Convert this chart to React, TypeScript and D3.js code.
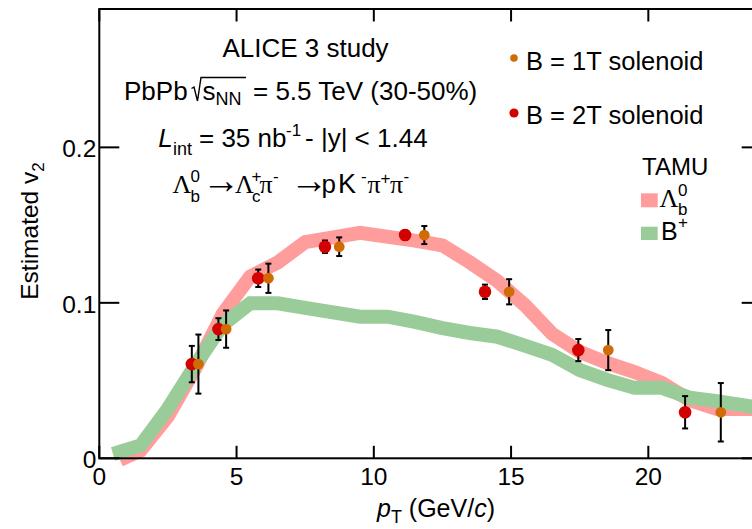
import React from "react";
import * as d3 from "d3";

const W = 752;
const H = 529;

// ALICE 3 projection, B = 2T solenoid
const ptB2T = [3.37, 4.34, 5.79, 8.22, 11.14, 14.05, 17.45, 21.34];
const v2B2T = [0.0606, 0.0831, 0.1158, 0.1361, 0.1436, 0.1071, 0.0696, 0.0296];
const errB2T = [0.0117, 0.007, 0.0056, 0.004, 0.003, 0.0046, 0.0071, 0.0104];

// ALICE 3 projection, B = 1T solenoid
const ptB1T = [3.61, 4.62, 6.16, 8.74, 11.84, 14.93, 18.54, 22.64];
const v2B1T = [0.0606, 0.0831, 0.1158, 0.1361, 0.1436, 0.1071, 0.0696, 0.0296];
const errB1T = [0.019, 0.012, 0.0094, 0.006, 0.0058, 0.0081, 0.0129, 0.0188];

// TAMU model, Lambda_b^0
const ptTamuLb = [0.75, 1.5, 2.5, 3.5, 4.5, 5.5, 6.5, 7.5, 9.5, 11.5, 12.5, 13.5, 14.5, 15.5, 16.5, 17.5, 18.5, 19.5, 20.5, 21.5, 22.5, 24.1];
const v2TamuLb = [-0.001, 0.005, 0.027, 0.058, 0.093, 0.117, 0.126, 0.139, 0.145, 0.14, 0.137, 0.126, 0.114, 0.0985, 0.08, 0.0686, 0.0613, 0.0555, 0.0484, 0.0375, 0.0317, 0.0317];

// TAMU model, B+
const ptTamuBp = [0.5, 1.5, 2.5, 3.5, 4.5, 5.5, 6.5, 7.5, 9.5, 10.5, 11.5, 12.5, 13.5, 14.5, 15.5, 16.5, 17.5, 18.5, 19.5, 20.5, 21.5, 22.5, 24.1];
const v2TamuBp = [0.0028, 0.0082, 0.032, 0.06, 0.086, 0.0997, 0.0997, 0.0967, 0.0911, 0.0911, 0.0878, 0.0838, 0.0806, 0.0782, 0.0725, 0.0665, 0.0568, 0.0504, 0.0453, 0.0453, 0.039, 0.0368, 0.0323];

const xTicks = [0, 5, 10, 15, 20];
const yTicks = [0, 0.1, 0.2];
const yTickLabels = ["0", "0.1", "0.2"];

const SANS = "'Liberation Sans', Arial, Helvetica, sans-serif";
const SERIF = "'Liberation Serif', 'Times New Roman', serif";

const RED = "#d20000";
const ORANGE = "#d16b05";
const PINK = "#ff9d9d";
const GREEN = "#9acc9a";

export default function App() {
  const x = d3.scaleLinear().domain([0, 24.13]).range([99.3, 761.7]);
  const y = d3.scaleLinear().domain([0, 0.289]).range([458.3, 9]);
  const [x0, x1] = x.range();
  const [y0, y1] = y.range();

  const line = d3
    .line<[number, number]>()
    .x((d) => x(d[0]))
    .y((d) => y(d[1]));

  const lbPath = line(ptTamuLb.map((p, i) => [p, v2TamuLb[i]]) as [number, number][]) || "";
  const bpPath = line(ptTamuBp.map((p, i) => [p, v2TamuBp[i]]) as [number, number][]) || "";

  const errBars = (pts: number[], vals: number[], errs: number[], key: string) =>
    pts.map((p, i) => {
      const cx = x(p);
      const top = y(vals[i] + errs[i]);
      const bot = y(vals[i] - errs[i]);
      return (
        <g key={key + i} stroke="#000" strokeWidth={2}>
          <line x1={cx} x2={cx} y1={top} y2={bot} />
          <line x1={cx - 3} x2={cx + 3} y1={top} y2={top} />
          <line x1={cx - 3} x2={cx + 3} y1={bot} y2={bot} />
        </g>
      );
    });

  return (
    <svg
      width={W}
      height={H}
      style={{ position: "absolute", left: 0, top: 0, background: "#fff" }}
      fontFamily={SANS}
    >
      <rect x={0} y={0} width={W} height={H} fill="#fff" />

      {/* model bands */}
      <path d={lbPath} fill="none" stroke={PINK} strokeWidth={14} strokeLinejoin="miter" />
      <path d={bpPath} fill="none" stroke={GREEN} strokeWidth={14} strokeLinejoin="miter" />

      {/* projections */}
      {errBars(ptB2T, v2B2T, errB2T, "e2")}
      {errBars(ptB1T, v2B1T, errB1T, "e1")}
      {ptB2T.map((p, i) => (
        <circle key={"r" + i} cx={x(p)} cy={y(v2B2T[i])} r={6.3} fill={RED} />
      ))}
      {ptB1T.map((p, i) => (
        <circle key={"o" + i} cx={x(p)} cy={y(v2B1T[i])} r={5.4} fill={ORANGE} />
      ))}

      {/* frame and ticks */}
      <g stroke="#000" strokeWidth={2} fill="none">
        <rect x={x0} y={y1} width={x1 - x0} height={y0 - y1} />
        {xTicks.map((t) => (
          <g key={"xt" + t}>
            <line x1={x(t)} x2={x(t)} y1={y0} y2={y0 - 12.5} />
            <line x1={x(t)} x2={x(t)} y1={y1} y2={y1 + 12.5} />
          </g>
        ))}
        {yTicks.map((t) => (
          <g key={"yt" + t}>
            <line x1={x0} x2={x0 + 20} y1={y(t)} y2={y(t)} />
            <line x1={x1} x2={x1 - 20} y1={y(t)} y2={y(t)} />
          </g>
        ))}
      </g>

      {/* tick labels */}
      <g fontSize={24.5} fill="#000">
        {xTicks.map((t) => (
          <text key={"xl" + t} x={x(t)} y={485} textAnchor="middle">
            {t}
          </text>
        ))}
        {yTicks.map((t, i) => (
          <text key={"yl" + t} x={x0 - 3} y={y(t) + 10} textAnchor="end">
            {yTickLabels[i]}
          </text>
        ))}
      </g>

      {/* axis titles */}
      <text transform="translate(38,231) rotate(-90)" textAnchor="middle" fontSize={24.5}>
        Estimated v<tspan fontSize={17} dy={6}>2</tspan>
      </text>
      <text x={377} y={517} fontSize={25}>
        <tspan fontStyle="italic">p</tspan>
        <tspan fontSize={18} dy={6}>T</tspan>
        <tspan dy={-6}> (GeV/</tspan>
        <tspan fontStyle="italic">c</tspan>
        <tspan>)</tspan>
      </text>

      {/* annotation block */}
      <g fontSize={26} fill="#000">
        <text x={305.5} y={56.7} textAnchor="middle">ALICE 3 study</text>

        <text x={124} y={100}>PbPb</text>
        <path d="M191.5,88.5 L194,87 L197.5,101 L201,77.5 L246,77.5" fill="none" stroke="#000" strokeWidth={1.4} />
        <text x={202.5} y={100}>
          s<tspan fontSize={18} dy={5}>NN</tspan>
        </text>
        <text x={253} y={100}>= 5.5 TeV (30-50%)</text>

        <text x={158.3} y={147} fontStyle="italic">L</text>
        <text x={173} y={155} fontSize={18}>int</text>
        <text x={199} y={147}>= 35 nb</text>
        <text x={286} y={136} fontSize={17}>-1</text>
        <text x={305} y={147}>- |y| &lt; 1.44</text>

        <text x={172.5} y={193} fontFamily={SERIF} fontSize={26}>Λ</text>
        <text x={190.5} y={182} fontSize={17}>0</text>
        <text x={190.5} y={201.5} fontSize={17}>b</text>
        <text x={202} y={193} fontFamily={SERIF} fontSize={38}>→</text>
        <text x={235} y={193} fontFamily={SERIF} fontSize={26}>Λ</text>
        <text x={251.5} y={182} fontSize={17}>+</text>
        <text x={252} y={201.5} fontSize={17}>c</text>
        <text x={259.5} y={193} fontFamily={SERIF} fontSize={26}>π</text>
        <text x={273} y={182} fontSize={17}>-</text>
        <text x={290} y={193} fontFamily={SERIF} fontSize={38}>→</text>
        <text x={321.5} y={193}>p</text>
        <text x={338} y={193} fontSize={27}>K</text>
        <text x={361} y={182} fontSize={17}>-</text>
        <text x={367.5} y={193} fontFamily={SERIF} fontSize={26}>π</text>
        <text x={380.5} y={184} fontSize={17}>+</text>
        <text x={390} y={193} fontFamily={SERIF} fontSize={26}>π</text>
        <text x={403.5} y={182} fontSize={17}>-</text>
      </g>

      {/* legend: projections */}
      <circle cx={514} cy={58} r={3.8} fill={ORANGE} />
      <text x={526} y={70} fontSize={25.5}>B = 1T solenoid</text>
      <circle cx={514} cy={113} r={4.6} fill={RED} />
      <text x={526} y={123.5} fontSize={25.5}>B = 2T solenoid</text>

      {/* legend: model */}
      <text x={642} y={175} fontSize={24}>TAMU</text>
      <rect x={641} y={193.3} width={16.7} height={14} fill={PINK} />
      <text x={659.5} y={206.7} fontFamily={SERIF} fontSize={26}>Λ</text>
      <text x={678} y={195.5} fontSize={17}>0</text>
      <text x={678} y={214.5} fontSize={17}>b</text>
      <rect x={641} y={226.7} width={16.7} height={13.3} fill={GREEN} />
      <text x={661} y={240} fontSize={25}>B</text>
      <text x={678} y={228} fontSize={17}>+</text>
    </svg>
  );
}
